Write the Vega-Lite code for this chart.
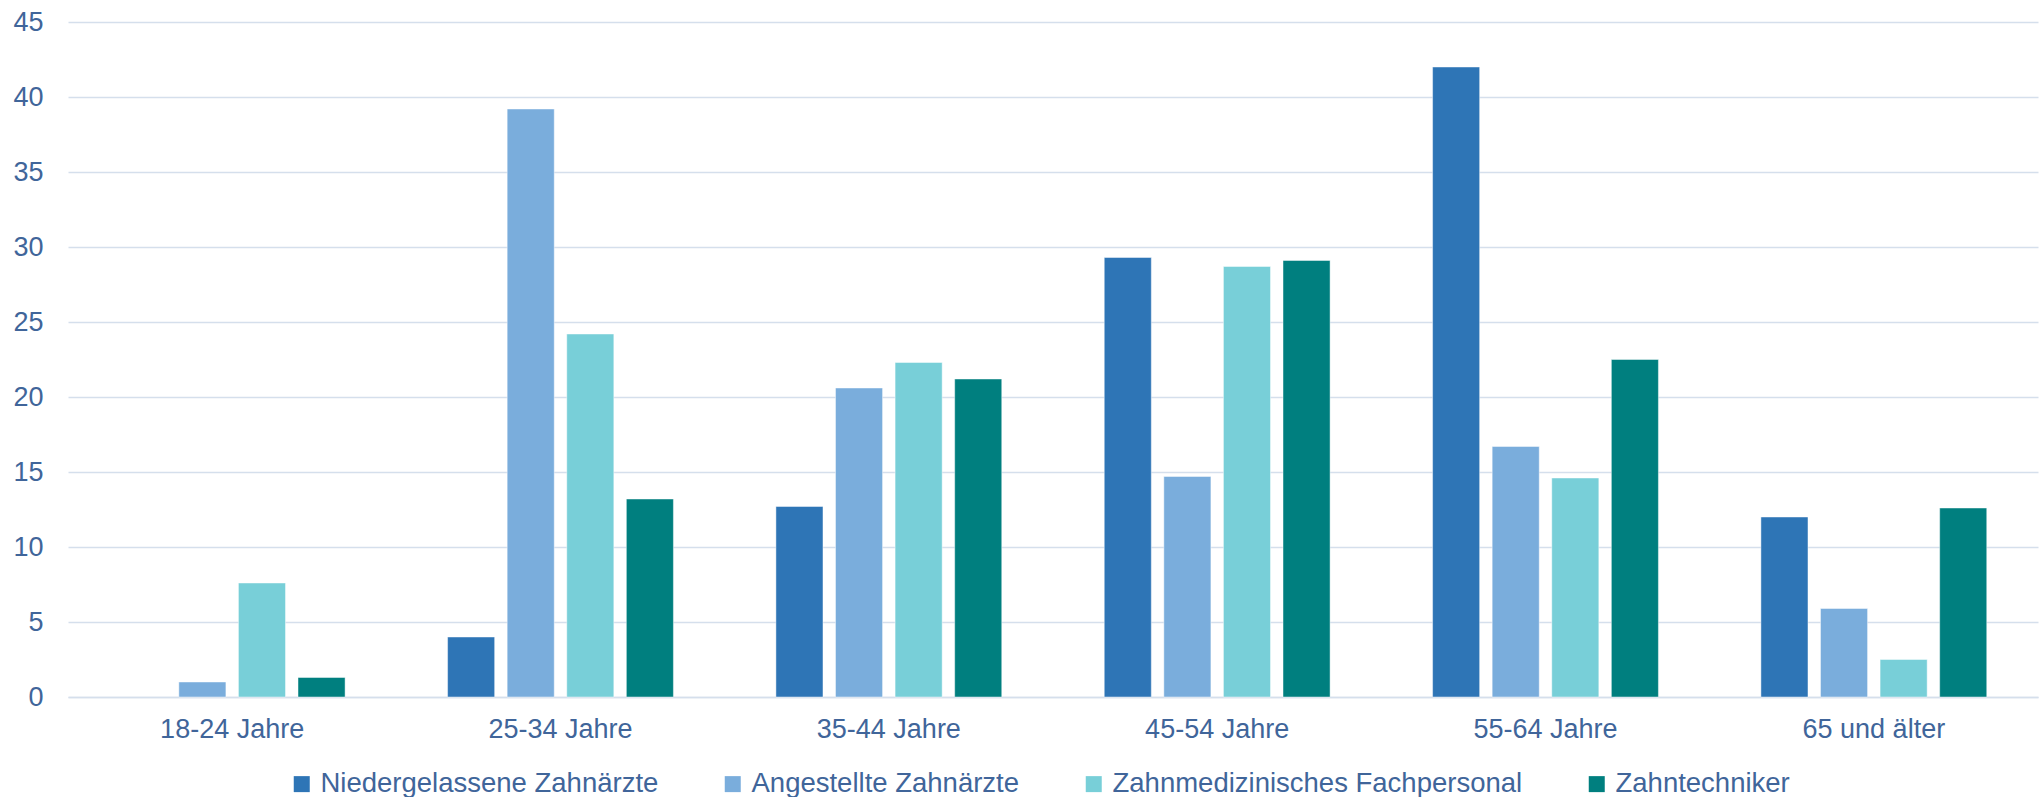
{
  "$schema": "https://vega.github.io/schema/vega-lite/v6.json",
  "autosize": {"type": "none"},
  "padding": {"left": 68, "top": 22, "right": 6, "bottom": 100},
  "width": 1970,
  "height": 675,
  "background": "#ffffff",
  "config": {
    "view": {"stroke": null},
    "font": "Liberation Sans",
    "axis": {"labelFont": "Liberation Sans", "labelColor": "#40659A", "labelFontSize": 27},
    "legend": {"labelFont": "Liberation Sans", "labelColor": "#40659A", "labelFontSize": 27.5}
  },
  "data": {
    "values": [
      {"gruppe": "18-24 Jahre", "kategorie": "Angestellte Zahnärzte", "wert": 1.0},
      {"gruppe": "18-24 Jahre", "kategorie": "Zahnmedizinisches Fachpersonal", "wert": 7.6},
      {"gruppe": "18-24 Jahre", "kategorie": "Zahntechniker", "wert": 1.3},
      {"gruppe": "25-34 Jahre", "kategorie": "Niedergelassene Zahnärzte", "wert": 4.0},
      {"gruppe": "25-34 Jahre", "kategorie": "Angestellte Zahnärzte", "wert": 39.2},
      {"gruppe": "25-34 Jahre", "kategorie": "Zahnmedizinisches Fachpersonal", "wert": 24.2},
      {"gruppe": "25-34 Jahre", "kategorie": "Zahntechniker", "wert": 13.2},
      {"gruppe": "35-44 Jahre", "kategorie": "Niedergelassene Zahnärzte", "wert": 12.7},
      {"gruppe": "35-44 Jahre", "kategorie": "Angestellte Zahnärzte", "wert": 20.6},
      {"gruppe": "35-44 Jahre", "kategorie": "Zahnmedizinisches Fachpersonal", "wert": 22.3},
      {"gruppe": "35-44 Jahre", "kategorie": "Zahntechniker", "wert": 21.2},
      {"gruppe": "45-54 Jahre", "kategorie": "Niedergelassene Zahnärzte", "wert": 29.3},
      {"gruppe": "45-54 Jahre", "kategorie": "Angestellte Zahnärzte", "wert": 14.7},
      {"gruppe": "45-54 Jahre", "kategorie": "Zahnmedizinisches Fachpersonal", "wert": 28.7},
      {"gruppe": "45-54 Jahre", "kategorie": "Zahntechniker", "wert": 29.1},
      {"gruppe": "55-64 Jahre", "kategorie": "Niedergelassene Zahnärzte", "wert": 42.0},
      {"gruppe": "55-64 Jahre", "kategorie": "Angestellte Zahnärzte", "wert": 16.7},
      {"gruppe": "55-64 Jahre", "kategorie": "Zahnmedizinisches Fachpersonal", "wert": 14.6},
      {"gruppe": "55-64 Jahre", "kategorie": "Zahntechniker", "wert": 22.5},
      {"gruppe": "65 und älter", "kategorie": "Niedergelassene Zahnärzte", "wert": 12.0},
      {"gruppe": "65 und älter", "kategorie": "Angestellte Zahnärzte", "wert": 5.9},
      {"gruppe": "65 und älter", "kategorie": "Zahnmedizinisches Fachpersonal", "wert": 2.5},
      {"gruppe": "65 und älter", "kategorie": "Zahntechniker", "wert": 12.6}
    ]
  },
  "mark": {"type": "bar", "stroke": "#ffffff", "strokeOpacity": 0.45, "strokeWidth": 1},
  "encoding": {
    "x": {
      "field": "gruppe",
      "type": "nominal",
      "sort": ["18-24 Jahre", "25-34 Jahre", "35-44 Jahre", "45-54 Jahre", "55-64 Jahre", "65 und älter"],
      "scale": {"paddingInner": 0, "paddingOuter": 0},
      "axis": {
        "title": null,
        "labelAngle": 0,
        "ticks": false,
        "domain": true,
        "domainColor": "#D5DFEC",
        "domainWidth": 1.5,
        "labelPadding": 19,
        "grid": false
      }
    },
    "xOffset": {
      "field": "kategorie",
      "type": "nominal",
      "sort": ["Niedergelassene Zahnärzte", "Angestellte Zahnärzte", "Zahnmedizinisches Fachpersonal", "Zahntechniker"],
      "scale": {"paddingInner": 0.21, "paddingOuter": 0.86}
    },
    "y": {
      "field": "wert",
      "type": "quantitative",
      "scale": {"domain": [0, 45], "nice": false},
      "axis": {
        "title": null,
        "values": [0, 5, 10, 15, 20, 25, 30, 35, 40, 45],
        "ticks": false,
        "domain": false,
        "gridColor": "#D5DFEC",
        "gridWidth": 1.5,
        "labelPadding": 25
      }
    },
    "color": {
      "field": "kategorie",
      "type": "nominal",
      "scale": {
        "domain": ["Niedergelassene Zahnärzte", "Angestellte Zahnärzte", "Zahnmedizinisches Fachpersonal", "Zahntechniker"],
        "range": ["#2E75B6", "#7AADDC", "#78CFD8", "#007F7F"]
      },
      "legend": {
        "title": null,
        "orient": "none",
        "direction": "horizontal",
        "legendX": 220,
        "legendY": 748,
        "padding": 0,
        "symbolType": "square",
        "symbolSize": 256,
        "symbolStrokeWidth": 0,
        "labelOffset": 5,
        "columnPadding": 60,
        "labelLimit": 600
      }
    }
  }
}
